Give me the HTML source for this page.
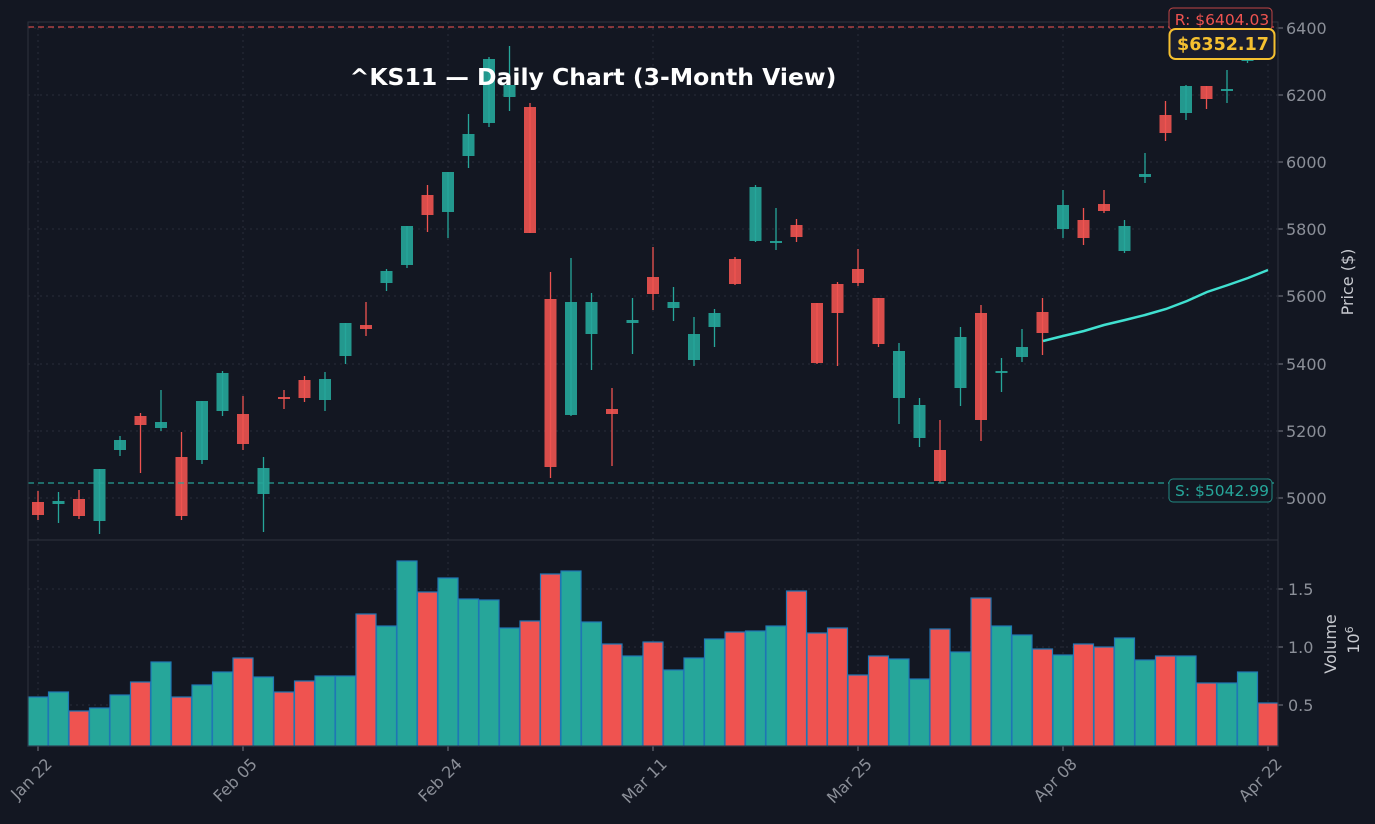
<!DOCTYPE html>
<html><head><meta charset="utf-8"><style>
html,body{margin:0;padding:0;background:#131722;}
svg{display:block;font-family:"DejaVu Sans","Liberation Sans",sans-serif;}
</style></head><body>
<svg id="c" width="1375" height="824" xmlns="http://www.w3.org/2000/svg">
<rect width="1375" height="824" fill="#131722"/>
</svg>
<script>
const s=document.getElementById('c');let h='';
const R='#ef5350',T='#26a69a';
const X=i=>38+20.5*i;
const yt=[[6400,28],[6200,95],[6000,162],[5800,229],[5600,296],[5400,364],[5200,431],[5000,498]];
const xt=[[0,'Jan 22'],[10,'Feb 05'],[20,'Feb 24'],[30,'Mar 11'],[40,'Mar 25'],[50,'Apr 08'],[60,'Apr 22']];
for(const [v,y] of yt){h+=`<line x1="28" x2="1278" y1="${y}" y2="${y}" stroke="#2a2e39" stroke-dasharray="2,4"/>`;
h+=`<line x1="1278" x2="1283" y1="${y}" y2="${y}" stroke="#787b86"/><text x="1286" y="${y+6}" font-size="16" fill="#8b8f98">${v}</text>`;}
for(const [i,l] of xt){const x=X(i);h+=`<line x1="${x}" x2="${x}" y1="22" y2="746" stroke="#2a2e39" stroke-dasharray="2,4"/>`;
h+=`<line x1="${x}" x2="${x}" y1="746" y2="751" stroke="#787b86"/><text transform="translate(${x+15},${765}) rotate(-45)" text-anchor="end" font-size="16" fill="#8b8f98">${l}</text>`;}
for(const [v,y] of [['1.5',589],['1.0',647],['0.5',705]]){h+=`<line x1="28" x2="1278" y1="${y}" y2="${y}" stroke="#2a2e39" stroke-dasharray="2,4"/><line x1="1278" x2="1283" y1="${y}" y2="${y}" stroke="#787b86"/><text x="1288" y="${y+6}" font-size="16" fill="#8b8f98">${v}</text>`;}
const C=[
[R,502,515,491,520],[T,501,504,492,523],[R,499,516,490,519],[T,469,521,469,534],[T,440,450,436,456],
[R,416,425,413,473],[T,422,428,390,431],[R,457,516,432,520],[T,401,460,401,464],[T,373,411,371,416],
[R,414,444,396,450],[T,468,494,457,532],[R,397,399,390,409],[R,380,398,376,402],[T,379,400,372,411],
[T,323,356,323,364],[R,325,329,302,336],[T,271,283,269,291],[T,226,265,226,268],[R,195,215,185,232],
[T,172,212,172,238],[T,134,156,114,168],[T,59,123,57,127],[T,85,97,46,111],[R,107,233,103,233],
[R,299,467,272,478],[T,302,415,258,416],[T,302,334,293,370],[R,409,414,388,466],[T,320,323,298,354],
[R,277,294,247,310],[T,302,308,287,321],[T,334,360,317,366],[T,313,327,309,347],[R,259,284,257,285],
[T,187,241,185,242],[T,241,243,208,250],[R,225,237,219,242],[R,303,363,303,364],[R,284,313,282,366],
[R,269,283,249,286],[R,298,344,298,347],[T,351,398,343,424],[T,405,438,398,447],[R,450,481,420,483],
[T,337,388,327,406],[R,313,420,305,441],[T,371,373,358,392],[T,347,357,329,362],[R,312,333,298,355],
[T,205,229,190,238],[R,220,238,208,245],[R,204,211,190,213],[T,226,251,220,253],[T,174,177,153,183],
[R,115,133,101,141],[T,86,113,85,120],[R,86,99,86,109],[T,89,91,70,103],[T,52,61,50,63],[T,42,46,38,50]];
C.forEach((c,i)=>{const x=X(i);h+=`<line x1="${x}" x2="${x}" y1="${c[3]}" y2="${c[4]}" stroke="${c[0]}" stroke-width="1.3"/><rect x="${x-6}" y="${c[1]}" width="12" height="${Math.max(2,c[2]-c[1])}" fill="${c[0]}" fill-opacity="0.9"/>`;});
h+=`<polyline points="1043,341 1063,336 1084,331 1104,325 1125,320 1145,315 1166,309 1187,301 1207,292 1228,285 1248,278 1268,270" fill="none" stroke="#40e0d0" stroke-width="2.5"/>`;
h+=`<line x1="28" x2="1278" y1="27" y2="27" stroke="#ef5350" stroke-opacity="0.7" stroke-width="1.5" stroke-dasharray="6,4"/>`;
h+=`<line x1="28" x2="1278" y1="483" y2="483" stroke="#26a69a" stroke-opacity="0.8" stroke-width="1.5" stroke-dasharray="6,4"/>`;
const V=[[T,697],[T,692],[R,711],[T,708],[T,695],[R,682],[T,662],[R,697],[T,685],[T,672],[R,658],[T,677],[R,692],[R,681],[T,676],[T,676],[R,614],[T,626],[T,561],[R,592],[T,578],[T,599],[T,600],[T,628],[R,621],[R,574],[T,571],[T,622],[R,644],[T,656],[R,642],[T,670],[T,658],[T,639],[R,632],[T,631],[T,626],[R,591],[R,633],[R,628],[R,675],[R,656],[T,659],[T,679],[R,629],[T,652],[R,598],[T,626],[T,635],[R,649],[T,655],[R,644],[R,647],[T,638],[T,660],[R,656],[T,656],[R,683],[T,683],[T,672],[R,703]];
V.forEach((v,i)=>{const x=X(i);h+=`<rect x="${x-10}" y="${v[1]}" width="20" height="${746-v[1]}" fill="${v[0]}" stroke="#1f77b4" stroke-width="1.2"/>`;});
h+=`<rect x="28" y="22" width="1250" height="518" fill="none" stroke="#2f333d"/><rect x="28" y="540" width="1250" height="206" fill="none" stroke="#2f333d"/>`;
h+=`<text x="593" y="85" text-anchor="middle" font-size="23.5" font-weight="bold" fill="#ffffff">^KS11 — Daily Chart (3-Month View)</text>`;
h+=`<text transform="translate(1353,282) rotate(-90)" text-anchor="middle" font-size="16" fill="#c8cad0">Price ($)</text>`;
h+=`<text transform="translate(1336,644) rotate(-90)" text-anchor="middle" font-size="16" fill="#c8cad0">Volume</text>`;
h+=`<text transform="translate(1359,640) rotate(-90)" text-anchor="middle" font-size="16" fill="#c8cad0">10<tspan dy="-6" font-size="11">6</tspan></text>`;
h+=`<rect x="1169" y="8" width="103" height="22" rx="4" fill="#131722" stroke="#ef5350" stroke-opacity="0.8"/><text x="1222" y="25" text-anchor="middle" font-size="15.5" fill="#ef5350">R: $6404.03</text>`;
h+=`<rect x="1169" y="479" width="103" height="23" rx="4" fill="#131722" stroke="#26a69a" stroke-opacity="0.8"/><text x="1222" y="496" text-anchor="middle" font-size="15.5" fill="#26a69a">S: $5042.99</text>`;
h+=`<rect x="1169.5" y="29" width="105" height="30" rx="6" fill="#1a1d2e" stroke="#f5c030" stroke-width="2"/><text x="1223" y="50" text-anchor="middle" font-size="17.5" font-weight="bold" fill="#f5c030">$6352.17</text>`;
s.innerHTML+=h;
</script>
</body></html>
